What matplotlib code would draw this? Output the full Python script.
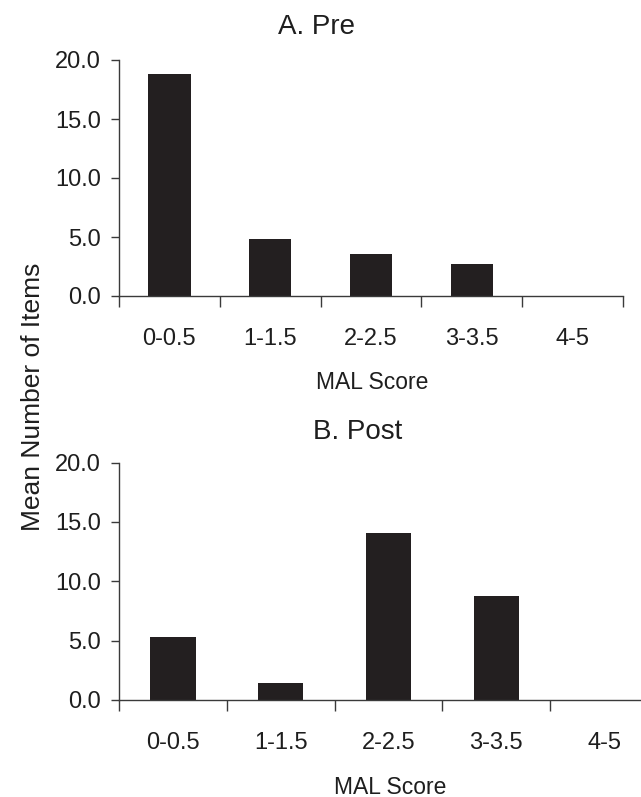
import numpy as np
import matplotlib
matplotlib.use('Agg')
import matplotlib.pyplot as plt
from matplotlib.ticker import FixedLocator, FormatStrFormatter

# Data
categories = ['0-0.5', '1-1.5', '2-2.5', '3-3.5', '4-5']
pre_values = [18.8, 4.8, 3.6, 2.7, 0.0]
post_values = [5.3, 1.4, 14.1, 8.8, 0.0]
y_ticks = [0, 5, 10, 15, 20]

BAR_COLOR = '#231f20'
AXIS_COLOR = '#3a3a3a'
TEXT_COLOR = '#1e1e1e'
FONT = ['Liberation Sans', 'DejaVu Sans']

W, H = 641, 797
fig = plt.figure(figsize=(W / 100, H / 100), dpi=100)


def fx(px):
    return px / W


def fy(py):
    return 1 - py / H


def draw_panel(ax, values):
    x = np.arange(len(categories))
    ax.bar(x, values, width=0.42, color=BAR_COLOR, edgecolor='none', zorder=2)
    ax.set_xlim(-0.5, len(categories) - 0.5)
    ax.set_ylim(0, 20)

    for s in ('top', 'right'):
        ax.spines[s].set_visible(False)
    for s in ('left', 'bottom'):
        ax.spines[s].set_color(AXIS_COLOR)
        ax.spines[s].set_linewidth(1.0)

    # boundary ticks (major) without labels, centred labels (minor) without ticks
    ax.xaxis.set_major_locator(FixedLocator(np.arange(len(categories) + 1) - 0.5))
    ax.xaxis.set_minor_locator(FixedLocator(x))
    ax.set_xticklabels([''] * (len(categories) + 1))
    ax.set_xticklabels(categories, minor=True, fontsize=17, family=FONT)
    ax.tick_params(axis='x', which='major', direction='out', length=8,
                   width=1.0, color=AXIS_COLOR)
    ax.tick_params(axis='x', which='minor', length=0, pad=23,
                   labelcolor=TEXT_COLOR)

    ax.set_yticks(y_ticks)
    ax.yaxis.set_major_formatter(FormatStrFormatter('%.1f'))
    for lbl in ax.get_yticklabels():
        lbl.set_family(FONT)
        lbl.set_fontsize(17)
    ax.tick_params(axis='y', direction='out', length=6, width=1.0,
                   color=AXIS_COLOR, pad=7, labelcolor=TEXT_COLOR)


# ── Top panel: Pre ──
ax1 = fig.add_axes([fx(119), fy(296), fx(623 - 119), (296 - 60) / H])
draw_panel(ax1, pre_values)

# ── Bottom panel: Post (runs past the right edge as in the source) ──
ax2 = fig.add_axes([fx(119), fy(700), fx(658 - 119), (700 - 462.5) / H])
draw_panel(ax2, post_values)

text_kw = dict(ha='center', va='center', color=TEXT_COLOR, family=FONT)
fig.text(fx(316), fy(27), 'A. Pre', fontsize=20, **text_kw)
fig.text(fx(358), fy(432), 'B. Post', fontsize=20, **text_kw)
fig.text(fx(372), fy(383), 'MAL Score', fontsize=16.5, **text_kw)
fig.text(fx(390), fy(787), 'MAL Score', fontsize=16.5, **text_kw)
fig.text(fx(33), fy(397), 'Mean Number of Items', fontsize=19, rotation=90,
         **text_kw)

fig.savefig('out.png', dpi=100)
plt.close(fig)
